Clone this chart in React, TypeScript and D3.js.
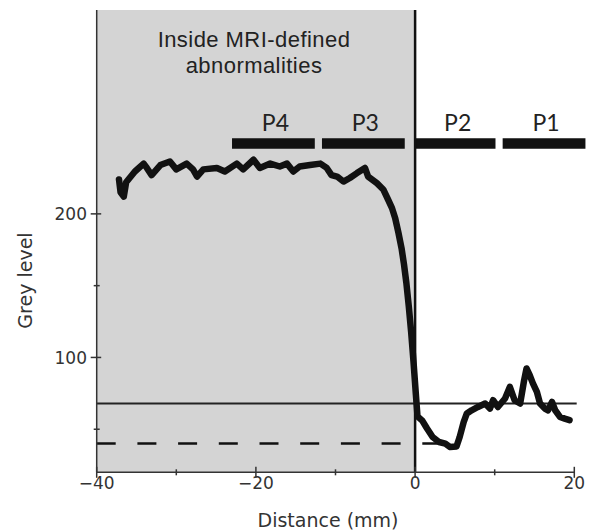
import React from "react";
import * as d3 from "d3";

const distance = [-37.2, -37.0, -36.6, -36.3, -35.2, -34.1, -33.7, -33.1, -32.0, -30.8, -30.0, -28.7, -27.9, -27.4, -26.6, -24.9, -23.9, -22.4, -21.6, -20.3, -19.5, -18.2, -17.0, -16.1, -15.3, -14.5, -13.2, -11.9, -11.1, -10.5, -9.8, -9.0, -8.2, -7.3, -6.3, -5.9, -4.8, -4.0, -3.4, -2.9, -2.5, -2.1, -1.7, -1.4, -1.1, -0.8, -0.5, -0.2, 0.1, 0.3, 0.9, 1.5, 2.2, 3.0, 3.8, 4.4, 5.2, 5.6, 6.1, 6.5, 7.1, 7.9, 8.8, 9.4, 9.8, 10.4, 11.3, 11.9, 12.5, 13.2, 13.7, 14.0, 14.4, 14.8, 15.3, 15.7, 16.3, 16.7, 17.2, 17.6, 18.2, 18.8, 19.4];
const greyLevel = [224, 215, 212, 222, 229.5, 235, 232, 227, 234, 236.5, 231, 235, 231, 226, 231, 232, 229.5, 235, 231, 237.7, 232, 235, 233, 235, 229.5, 233, 234, 235, 232, 227, 226, 222.5, 225, 228.4, 232, 226, 221.4, 217, 210, 204, 197, 187, 176, 165, 152, 136, 118, 97, 74, 59, 56, 50.5, 44.6, 41.1, 40, 37.6, 38, 44.6, 55, 61, 63.2, 65.5, 67.9, 64.4, 70.2, 65.5, 71.4, 79.5, 70.2, 67.9, 84.2, 92.3, 87.6, 81.9, 76, 67.9, 64.4, 63.2, 69, 63.2, 58.6, 57.4, 56.3];

const phaseLabels = ["P4", "P3", "P2", "P1"];
const phaseStart = [-23.0, -11.7, 0.1, 11.0];
const phaseEnd = [-12.6, -1.3, 10.1, 21.4];
const phaseLevel = 249;

const xMajorTicks = [-40, -20, 0, 20];
const xMinorTicks = [-30, -10, 10];
const yMajorTicks = [100, 200];
const yMinorTicks = [50, 150];

const solidRef = 68;
const dashedRef = 40;
const solidRange = [-40, 20.3];
const dashedRange = [-40, 3.3];
const insideRange = [-40, 0];
const titleLines = ["Inside MRI-defined", "abnormalities"];

export default function App() {
  const W = 589, H = 531;
  const x = d3.scaleLinear().domain([-40, 20]).range([96.7, 574.3]);
  const y = d3.scaleLinear().domain([20, 342]).range([472.3, 10]);
  const pts = distance.map((d, i) => [d, greyLevel[i]] as [number, number]);
  const line = d3.line<[number, number]>().x(d => x(d[0])).y(d => y(d[1]));
  const tickFont = "'DejaVu Sans', sans-serif";
  const axisColor = "#333";
  const fmt = (v: number) => (v < 0 ? "\u2212" + Math.abs(v) : String(v));

  return (
    <svg width={W} height={H} style={{ position: "absolute", left: 0, top: 0, display: "block", background: "#fff" }}>
      <rect x={x(insideRange[0])} y={y(342)} width={x(insideRange[1]) - x(insideRange[0])} height={y(20) - y(342)} fill="#d4d4d4" />
      {titleLines.map((t, i) => (
        <text key={t} x={254} y={46.7 + i * 26.6} textAnchor="middle" fontFamily="'Liberation Sans', Arial, sans-serif" fontSize={22} letterSpacing={0.45} fill="#222">{t}</text>
      ))}
      {phaseLabels.map((p, i) => (
        <g key={p}>
          <line x1={x(phaseStart[i])} x2={x(phaseEnd[i])} y1={y(phaseLevel)} y2={y(phaseLevel)} stroke="#111" strokeWidth={10.5} />
          <text x={(x(phaseStart[i]) + x(phaseEnd[i])) / 2 + 2} y={130.8} textAnchor="middle" fontFamily="Lato, sans-serif" fontSize={23} fill="#222">{p}</text>
        </g>
      ))}
      <line x1={x(solidRange[0])} x2={x(solidRange[1])} y1={y(solidRef)} y2={y(solidRef)} stroke="#222" strokeWidth={2} />
      <line x1={x(dashedRange[0])} x2={x(dashedRange[1])} y1={y(dashedRef)} y2={y(dashedRef)} stroke="#111" strokeWidth={2.5} strokeDasharray="19,21.7" />
      <line x1={x(0)} x2={x(0)} y1={y(342)} y2={y(20)} stroke="#111" strokeWidth={2.5} />
      <line x1={x(-40)} x2={x(-40)} y1={y(342)} y2={y(20)} stroke={axisColor} strokeWidth={1.5} />
      <line x1={x(-40)} x2={x(20)} y1={y(20)} y2={y(20)} stroke={axisColor} strokeWidth={1.5} />
      {xMajorTicks.map(t => (
        <g key={"xm" + t}>
          <line x1={x(t)} x2={x(t)} y1={y(20) - 5.5} y2={y(20) + 5.5} stroke={axisColor} strokeWidth={1.5} />
          <text x={x(t)} y={489} textAnchor="middle" fontFamily={tickFont} fontSize={17} fill="#333">{fmt(t)}</text>
        </g>
      ))}
      {xMinorTicks.map(t => (
        <line key={"xn" + t} x1={x(t)} x2={x(t)} y1={y(20) - 3} y2={y(20) + 3} stroke={axisColor} strokeWidth={1.5} />
      ))}
      {yMajorTicks.map(t => (
        <g key={"ym" + t}>
          <line x1={x(-40) - 6} x2={x(-40) + 4.5} y1={y(t)} y2={y(t)} stroke={axisColor} strokeWidth={1.5} />
          <text x={87} y={y(t)} dy="0.36em" textAnchor="end" fontFamily={tickFont} fontSize={17} fill="#333">{fmt(t)}</text>
        </g>
      ))}
      {yMinorTicks.map(t => (
        <line key={"yn" + t} x1={x(-40) - 3} x2={x(-40) + 3} y1={y(t)} y2={y(t)} stroke={axisColor} strokeWidth={1.5} />
      ))}
      <path d={line(pts) || ""} fill="none" stroke="#111" strokeWidth={6.5} strokeLinejoin="round" strokeLinecap="round" />
      <text x={328} y={526.7} textAnchor="middle" fontFamily={tickFont} fontSize={19} fill="#333">Distance (mm)</text>
      <text transform="translate(32,280.5) rotate(-90)" textAnchor="middle" fontFamily={tickFont} fontSize={19} fill="#333">Grey level</text>
    </svg>
  );
}
